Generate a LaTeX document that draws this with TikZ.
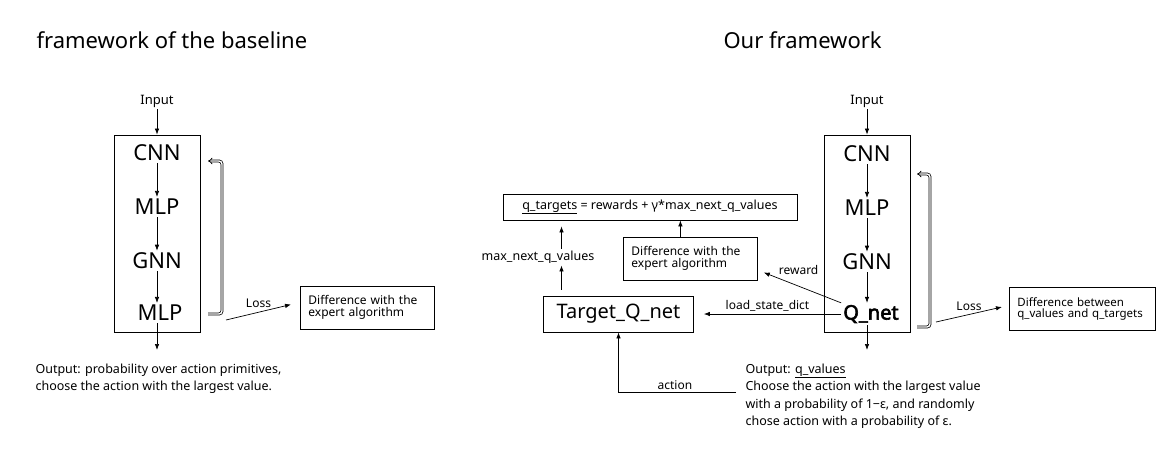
\documentclass[tikz,border=0pt]{standalone}
\usepackage{fontspec}
\setmainfont{Noto Sans}[AutoFakeBold=3]
\usepackage{tikz}
\usetikzlibrary{arrows.meta,positioning,calc}
\newcommand{\fs}[1]{\fontsize{#1}{#1}\selectfont}
\tikzset{
  title/.style={anchor=west, font=\fs{22}},
  layer/.style={font=\fs{22}, inner sep=2pt},
  stack/.style={draw, line width=0.8pt, minimum width=86pt, minimum height=197pt},
  netbox/.style={draw, line width=0.8pt, minimum width=150pt, minimum height=36pt, font=\fs{20}},
  note/.style={draw, line width=0.8pt, anchor=west, align=left, text width=118pt,
    inner xsep=8pt, minimum height=43pt, font=\fs{12}},
  lbl/.style={font=\fs{12}, inner sep=2pt},
  outtext/.style={anchor=north west, align=left, font=\fontsize{12.5}{17.5}\selectfont},
  arrow/.style={-{Latex[length=6pt,width=4.5pt]}, line width=0.7pt},
  feedback/.style={double=white, draw=black, double distance=1.4pt, line width=0.75pt,
    rounded corners=3pt, -{Implies}},
}

\begin{document}
\begin{tikzpicture}[x=1pt,y=-1pt]
  \useasboundingbox (0,0) rectangle (1168,461);

  % left: baseline
  \node[title] (titleL) at (33,40) {framework of the baseline};
  \node[lbl, font=\fs{13}] (inL) at (157,101) {Input};
  \node[stack] (boxL) at (157,233.5) {};
  \node[layer] (cnnL) at (157,153) {CNN};
  \node[layer] (mlpL) at (157,207) {MLP};
  \node[layer] (gnnL) at (157,261) {GNN};
  \node[layer] (mlp2L) at (160,313) {MLP};
  \node[note] (diffL) at (300,307.5) {Difference with the\\expert algorithm};
  \node[outtext] (outtxtL) at (32,360)
    {Output: probability over action primitives,\\choose the action with the largest value.};
  \coordinate (outL) at (157,350);
  \coordinate (fbL1) at (208,314);
  \coordinate (fbL2) at (208,161);
  \coordinate (lossL) at (226,320);

  \draw[arrow] (inL) -- (boxL);
  \draw[arrow] (cnnL) -- (mlpL);
  \draw[arrow] (mlpL) -- (gnnL);
  \draw[arrow] (gnnL.south -| cnnL) -- (mlp2L.north -| cnnL);
  \draw[arrow] (outL |- mlp2L.south) -- (outL);
  \draw[feedback] (fbL1) -- ++(14,0) |- (fbL2);
  \draw[arrow] (lossL) -- node[lbl, midway, above=2pt] {Loss}
    ([shift={(-9pt,3pt)}]diffL.west);

  % right: our framework
  \node[title] (titleR) at (720,40) {Our framework};
  \node[lbl, font=\fs{13}] (inR) at (867,101) {Input};
  \node[stack] (boxR) at (867,233.5) {};
  \node[layer] (cnnR) at (867,154) {CNN};
  \node[layer] (mlpR) at (867,208) {MLP};
  \node[layer] (gnnR) at (867,262) {GNN};
  \node[layer, font=\fs{20}\bfseries] (qnet) at (871,314) {Q\_net};
  \node[netbox] (target) at (618.5,314) {Target\_Q\_net};
  \node[note] (diffE) at (623,258.5) {Difference with the\\expert algorithm};
  \node[note, text width=130pt, font=\fs{11.5}] (diffR) at (1009,309)
    {Difference between\\q\_values and q\_targets};
  \node[draw, line width=0.8pt, minimum width=294pt, minimum height=26pt, font=\fs{12.5}]
    (qtar) at (650,207) {\underline{q\_targets} = rewards + γ*max\_next\_q\_values};
  \node[lbl, font=\fs{12.5}] (maxq) at (538,257) {max\_next\_q\_values};
  \node[outtext] (outtxtR) at (742,360)
    {Output: \underline{q\_values}\\Choose the action with the largest value\\
     with a probability of 1−ε, and randomly\\chose action with a probability of ε.};
  \coordinate (outR) at (867,350);
  \coordinate (fbR1) at (917,327);
  \coordinate (fbR2) at (917,174);
  \coordinate (lossR) at (936,322);
  \coordinate (actR) at (736,392);
  \coordinate (mcol) at ([xshift=-57pt]target.north);

  \draw[arrow] (inR) -- (boxR);
  \draw[arrow] (cnnR) -- (mlpR);
  \draw[arrow] (mlpR) -- (gnnR);
  \draw[arrow] (gnnR.south) -- (gnnR.south |- qnet.north);
  \draw[arrow] (outR |- qnet.south) -- (outR);
  \draw[feedback] (fbR1) -- ++(13,0) |- (fbR2);
  \draw[arrow] (lossR) -- node[lbl, midway, above=2pt] {Loss}
    ([shift={(-7pt,2pt)}]diffR.west);
  \draw[arrow, shorten >=10pt] (qnet.west) -- node[lbl, midway, above] {load\_state\_dict}
    (qnet.west -| target.east);
  \draw[arrow] (qnet.north west) -- node[lbl, pos=0.55, above=9pt] {reward}
    ([shift={(6pt,-14pt)}]diffE.east);
  \draw[arrow] (actR) -| node[lbl, pos=0.26, above] {action} (target.south);
  \draw[arrow] ([xshift=-10pt]diffE.north) -- ([xshift=-10pt]diffE.north |- qtar.south);
  \draw[arrow, shorten <=6pt] (mcol) -- (mcol |- maxq.south);
  \draw[arrow, shorten >=6pt] (mcol |- maxq.north) -- (mcol |- qtar.south);
\end{tikzpicture}
\end{document}
